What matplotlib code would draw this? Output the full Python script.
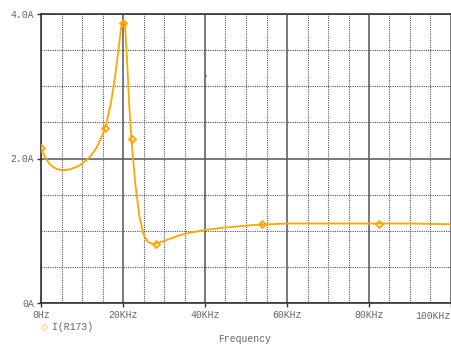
import matplotlib
matplotlib.use('Agg')
import matplotlib.pyplot as plt
from matplotlib.ticker import MultipleLocator, FuncFormatter

# curve I(R173) vs frequency (KHz, A)
freq_khz = [0, 1, 2, 3, 4, 5, 6, 7, 8, 9, 10, 11, 12, 13, 14, 15, 16, 17, 18, 19,
            19.5, 20, 20.5, 21, 21.5, 22, 23, 24, 25, 26, 27, 28, 30, 32, 34, 36,
            38, 40, 44, 48, 52, 56, 60, 70, 80, 90, 100]
current = [2.15, 2.02, 1.93, 1.88, 1.85, 1.84, 1.84, 1.85, 1.87, 1.89, 1.93, 1.97,
           2.03, 2.10, 2.20, 2.33, 2.50, 2.75, 3.10, 3.55, 3.80, 3.90, 3.85, 3.35,
           2.75, 2.30, 1.65, 1.20, 0.95, 0.85, 0.82, 0.82, 0.86, 0.90, 0.94, 0.97,
           0.99, 1.01, 1.04, 1.06, 1.08, 1.09, 1.10, 1.10, 1.10, 1.10, 1.09]

mark_khz = [0, 15.5, 20.1, 22.2, 28, 54, 82.4]
mark_val = [2.15, 2.42, 3.88, 2.27, 0.82, 1.09, 1.10]

orange = '#FFA500'
grey = '#555555'
font = 'Liberation Mono'
fs = 7

fig = plt.figure(figsize=(4.51, 3.44), dpi=100)
ax = fig.add_axes([41/451, 1-303/344, 1-41/451, (303-14)/344])

ax.plot(freq_khz, current, color=orange, lw=1.3, zorder=3)
ax.plot(mark_khz, mark_val, ls='none', marker='D', ms=3.5, mfc='none', mec=orange, mew=1.3, zorder=4)

ax.set_xlim(0, 100)
ax.set_ylim(0, 4)
ax.xaxis.set_major_locator(MultipleLocator(20))
ax.xaxis.set_minor_locator(MultipleLocator(5))
ax.yaxis.set_major_locator(MultipleLocator(2))
ax.yaxis.set_minor_locator(MultipleLocator(0.5))
# last label is placed by hand so it stays inside the figure
ax.xaxis.set_major_formatter(FuncFormatter(
    lambda v, p: '0Hz' if v == 0 else ('' if v >= 100 else '%dKHz' % v)))
ax.yaxis.set_major_formatter(FuncFormatter(lambda v, p: '0A' if v == 0 else '%.1fA' % v))

ax.grid(which='major', color=grey, lw=1.1, ls='-')
ax.grid(which='minor', color='#555555', lw=0.8, ls=(0, (1, 1)))
ax.tick_params(which='major', length=3, width=1, color='#333333', labelsize=fs, labelcolor='#666666', pad=2)
ax.tick_params(which='minor', length=0)
for s in ax.spines.values():
    s.set_color('#333333')
    s.set_linewidth(1.2)
ax.spines['right'].set_visible(False)
ax.tick_params(labelfontfamily=font)

fig.text(450/451, 1-316/344, '100KHz', color='#666666', fontsize=fs, va='center', ha='right', family=font)
fig.text(44/451, 1-327/344, u'\u25c7', color=orange, fontsize=6.5, va='center', ha='center',
         family='DejaVu Sans', weight='bold')
fig.text(52/451, 1-327/344, 'I(R173)', color='#666666', fontsize=fs, va='center', family=font)
fig.text(245/451, 1-339/344, 'Frequency', color='#666666', fontsize=fs, va='center', ha='center', family=font)
fig.text(205/451, 1-80/344, "'", color='#222222', fontsize=5, ha='center', family=font)

fig.savefig('out.png', dpi=100)
